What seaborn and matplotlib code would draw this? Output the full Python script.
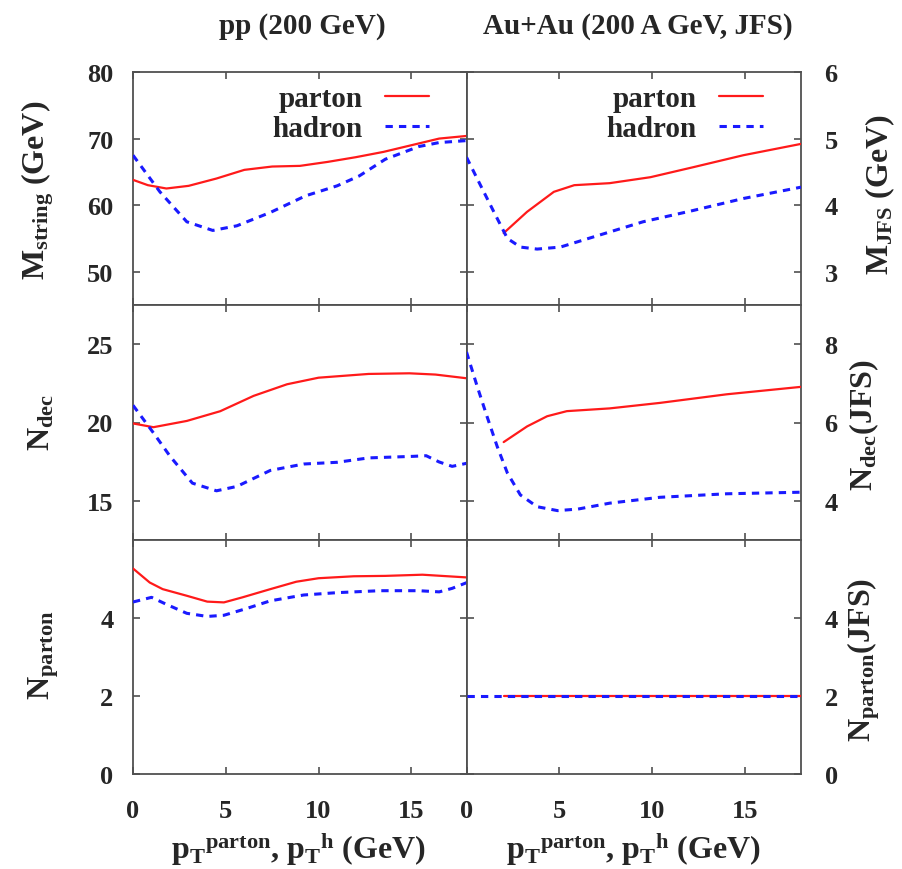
import matplotlib
matplotlib.use('Agg')
import matplotlib.pyplot as plt
import seaborn as sns
import pandas as pd

# ---------------- data ----------------
# pp (200 GeV): M_string
pp_m_parton_x = [0, 0.8, 1.8, 3, 4.5, 6, 7.5, 9, 10.5, 12, 13.5, 15, 16.5, 18]
pp_m_parton_y = [63.8, 63.0, 62.5, 62.9, 64.0, 65.3, 65.8, 65.9, 66.5, 67.2, 68.0, 69.0, 70.0, 70.4]
pp_m_hadron_x = [0, 1.45, 2.9, 4.3, 5.6, 7.4, 9.3, 11, 12.2, 13.6, 15.4, 16.5, 18]
pp_m_hadron_y = [67.5, 62.0, 57.5, 56.2, 56.9, 58.9, 61.4, 62.9, 64.4, 66.9, 68.8, 69.4, 69.7]

# Au+Au JFS: M_JFS
au_m_parton_x = [2, 3.26, 4.7, 5.8, 7.7, 9.9, 12.2, 14.9, 18]
au_m_parton_y = [3.58, 3.9, 4.2, 4.3, 4.33, 4.42, 4.57, 4.75, 4.92]
au_m_hadron_x = [0, 0.75, 1.47, 2.2, 2.9, 3.8, 5.05, 6.8, 9.5, 12.2, 14.9, 18]
au_m_hadron_y = [4.72, 4.3, 3.9, 3.5, 3.37, 3.34, 3.37, 3.52, 3.75, 3.92, 4.1, 4.27]

# pp: N_dec
pp_n_parton_x = [0, 1.1, 2.9, 4.7, 6.5, 8.3, 10, 12.7, 14.9, 16.3, 18]
pp_n_parton_y = [19.94, 19.7, 20.1, 20.72, 21.7, 22.44, 22.86, 23.1, 23.14, 23.06, 22.82]
pp_n_hadron_x = [0, 1.1, 2, 3.2, 4.5, 5.6, 7.4, 9.2, 11, 12.7, 15.1, 15.8, 16.5, 17.2, 18]
pp_n_hadron_y = [21.1, 19.34, 17.84, 16.13, 15.64, 15.92, 16.94, 17.35, 17.46, 17.74, 17.84, 17.88, 17.48, 17.2, 17.4]

# Au+Au: N_dec(JFS)
au_n_parton_x = [2, 3.26, 4.34, 5.4, 7.7, 10.4, 14, 18]
au_n_parton_y = [5.5, 5.9, 6.16, 6.29, 6.36, 6.5, 6.72, 6.91]
au_n_hadron_x = [0, 0.57, 1.1, 1.65, 2.2, 2.9, 3.8, 4.9, 6, 7.7, 10.4, 14, 18]
au_n_hadron_y = [7.8, 6.93, 6.16, 5.39, 4.71, 4.15, 3.85, 3.75, 3.79, 3.94, 4.09, 4.18, 4.22]

# pp: N_parton
pp_p_parton_x = [0, 0.9, 1.6, 2.9, 4.0, 4.9, 5.9, 7.4, 8.8, 10, 11.9, 13.6, 15.6, 18]
pp_p_parton_y = [5.27, 4.91, 4.74, 4.57, 4.42, 4.4, 4.53, 4.74, 4.93, 5.02, 5.07, 5.08, 5.11, 5.04]
pp_p_hadron_x = [0, 1.0, 1.8, 2.9, 4.0, 4.9, 6.1, 7.4, 9.2, 11, 13.3, 15.4, 16.5, 17.2, 18]
pp_p_hadron_y = [4.41, 4.53, 4.35, 4.12, 4.04, 4.07, 4.24, 4.44, 4.59, 4.65, 4.7, 4.7, 4.67, 4.76, 4.91]

# Au+Au: N_parton(JFS)
au_p_parton_x = [2, 18]
au_p_parton_y = [2, 2]
au_p_hadron_x = [0, 18]
au_p_hadron_y = [2, 2]

titles = ["pp (200 GeV)", "Au+Au (200 A GeV, JFS)"]
legend_labels = ["parton", "hadron"]
left_ylabels = [r"M$_{\mathrm{string}}$ (GeV)", r"N$_{\mathrm{dec}}$", r"N$_{\mathrm{parton}}$"]
right_ylabels = [r"M$_{\mathrm{JFS}}$ (GeV)", r"N$_{\mathrm{dec}}$(JFS)", r"N$_{\mathrm{parton}}$(JFS)"]
xlabel = r"p$_{\mathrm{T}}$$^{\mathrm{parton}}$, p$_{\mathrm{T}}$$^{\mathrm{h}}$ (GeV)"
xticks = [0, 5, 10, 15]
left_yticks = [[50, 60, 70, 80], [15, 20, 25], [0, 2, 4]]
right_yticks = [[3, 4, 5, 6], [4, 6, 8], [0, 2, 4]]
left_ylims = [(45, 80), (12.5, 27.5), (0, 6)]
right_ylims = [(2.5, 6), (3, 9), (0, 6)]

# ---------------- style ----------------
sns.set_theme(style="ticks")
plt.rcParams['font.family'] = ['Liberation Serif', 'DejaVu Serif']
plt.rcParams['font.weight'] = 'bold'
plt.rcParams['mathtext.fontset'] = 'custom'
plt.rcParams['mathtext.rm'] = 'Liberation Serif:bold'
plt.rcParams['mathtext.bf'] = 'Liberation Serif:bold'
plt.rcParams['mathtext.it'] = 'Liberation Serif:bold'
plt.rcParams['mathtext.default'] = 'bf'

W, H = 902, 870
fig = plt.figure(figsize=(W / 100, H / 100), dpi=100)

def fx(px):
    return px / W

def fy(py):
    return 1 - py / H

col_x = [(133, 467), (466.5, 801)]
row_y = [(73, 306), (306, 541), (541, 775)]

series = [
    [((pp_m_parton_x, pp_m_parton_y), (pp_m_hadron_x, pp_m_hadron_y)),
     ((au_m_parton_x, au_m_parton_y), (au_m_hadron_x, au_m_hadron_y))],
    [((pp_n_parton_x, pp_n_parton_y), (pp_n_hadron_x, pp_n_hadron_y)),
     ((au_n_parton_x, au_n_parton_y), (au_n_hadron_x, au_n_hadron_y))],
    [((pp_p_parton_x, pp_p_parton_y), (pp_p_hadron_x, pp_p_hadron_y)),
     ((au_p_parton_x, au_p_parton_y), (au_p_hadron_x, au_p_hadron_y))],
]

RED = '#ff1a1a'
BLUE = '#1a1aff'
FRAME = '#505050'
TICK_FS = 19

for r in range(3):
    for c in range(2):
        x0, x1 = col_x[c]
        y0, y1 = row_y[r]
        ax = fig.add_axes([fx(x0), fy(y1), (x1 - x0) / W, (y1 - y0) / H])
        (px_, py_), (hx_, hy_) = series[r][c]
        dp = pd.DataFrame({'x': px_, 'y': py_})
        dh = pd.DataFrame({'x': hx_, 'y': hy_})
        sns.lineplot(data=dp, x='x', y='y', ax=ax, color=RED, lw=1.6,
                     estimator=None, sort=False, label=legend_labels[0], zorder=3)
        sns.lineplot(data=dh, x='x', y='y', ax=ax, color=BLUE, lw=2.2,
                     linestyle=(0, (2.4, 2.0)), estimator=None, sort=False,
                     label=legend_labels[1], zorder=4)
        ax.set_xlim(0, 18)
        ax.set_xticks(xticks)
        if c == 0:
            ax.set_ylim(*left_ylims[r])
            ax.set_yticks(left_yticks[r])
        else:
            ax.set_ylim(*right_ylims[r])
            ax.set_yticks(right_yticks[r])
        ax.set_xlabel('')
        ax.set_ylabel('')
        for s in ax.spines.values():
            s.set_visible(True)
            s.set_color(FRAME)
            s.set_linewidth(1.3)
        ax.tick_params(direction='in', top=True, right=True, bottom=True, left=True,
                       length=5, width=1.2, color=FRAME, labelsize=TICK_FS)
        ax.tick_params(axis='x', pad=18)
        if c == 0:
            ax.tick_params(axis='y', labelleft=True, labelright=False, pad=14)
        else:
            ax.tick_params(axis='y', labelleft=False, labelright=True, pad=17)
        if r < 2:
            ax.tick_params(axis='x', labelbottom=False)
        for lab in ax.get_xticklabels() + ax.get_yticklabels():
            lab.set_fontweight('bold')
        if r == 0:
            ax.legend(loc='upper right', bbox_to_anchor=(0.955, 1.045), markerfirst=False,
                      frameon=False, handlelength=1.5, handletextpad=0.75,
                      labelspacing=0.1, borderpad=0.3, prop={'weight': 'bold', 'size': 21})
        else:
            lg = ax.get_legend()
            if lg is not None:
                lg.remove()

# titles
fig.text(fx(302), fy(27), titles[0], ha='center', va='center', fontsize=21, fontweight='bold')
fig.text(fx(638), fy(27), titles[1], ha='center', va='center', fontsize=21, fontweight='bold')

# y labels
left_centers = [(38, 190), (42, 422), (44, 655)]
right_centers = [(880, 195), (864, 425), (864, 660)]
for i in range(3):
    fig.text(fx(left_centers[i][0]), fy(left_centers[i][1]), left_ylabels[i],
             rotation=90, ha='center', va='center', fontsize=23, fontweight='bold')
    fig.text(fx(right_centers[i][0]), fy(right_centers[i][1]), right_ylabels[i],
             rotation=90, ha='center', va='center', fontsize=23, fontweight='bold')

# x labels
fig.text(fx(298), fy(850), xlabel, ha='center', va='center', fontsize=23, fontweight='bold')
fig.text(fx(633), fy(850), xlabel, ha='center', va='center', fontsize=23, fontweight='bold')

fig.savefig('out.png', dpi=100)
